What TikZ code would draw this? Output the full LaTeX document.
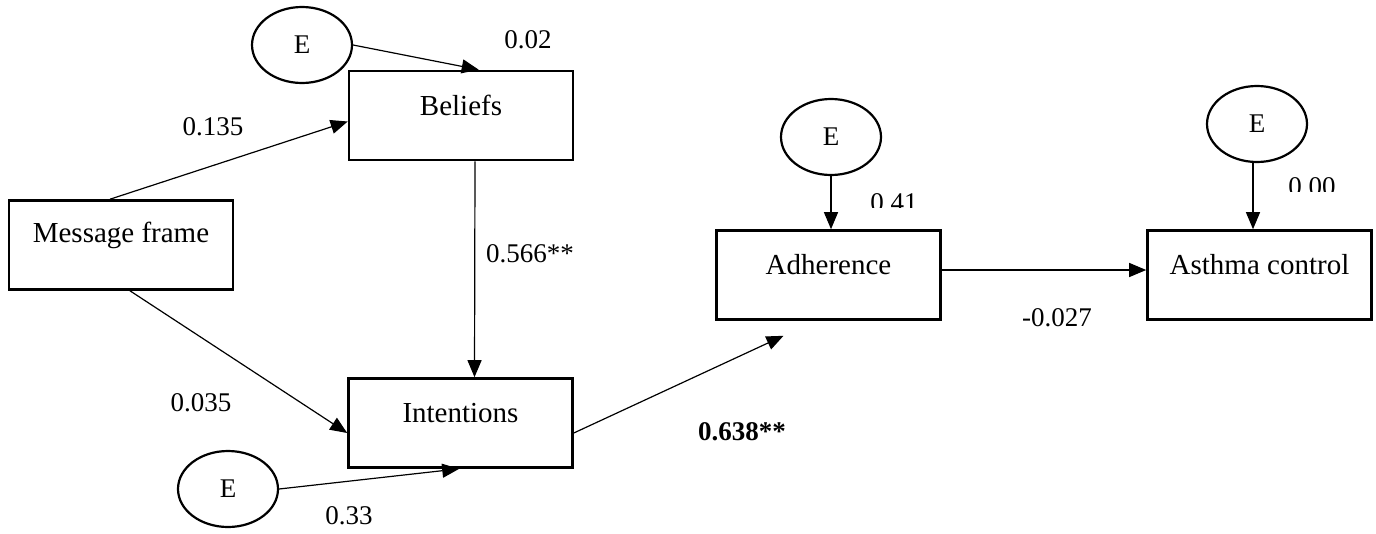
\documentclass[tikz,border=0pt]{standalone}
\usepackage{fontspec}
\setmainfont{Liberation Serif}
\usetikzlibrary{arrows.meta,shapes.geometric}
\begin{document}
\begin{tikzpicture}[x=1pt,y=-1pt,
  box/.style={draw,line width=2.6pt,rectangle,minimum width=224pt,minimum height=89pt,inner sep=0pt},
  boxtext/.style={font=\fontsize{29}{34}\selectfont,yshift=10pt},
  err/.style={draw,line width=2.2pt,ellipse,minimum width=100pt,minimum height=76pt,inner sep=0pt,font=\fontsize{27}{32}\selectfont},
  conn/.style={line width=1.2pt,-{Triangle[length=17pt,width=14pt]}},
  coef/.style={font=\fontsize{27}{32}\selectfont,inner sep=0pt}]
\useasboundingbox (0,0) rectangle (1376,533);
\fill[white] (0,0) rectangle (1376,533);
% boxes
\node[box,label={[boxtext]center:Message frame}] (msg) at (121,245) {};
\node[box,label={[boxtext]center:Beliefs}] (bel) at (461,115.5) {};
\node[box,label={[boxtext]center:Intentions}] (int) at (460.5,423) {};
\node[box,label={[boxtext]center:Adherence}] (adh) at (828.5,275) {};
\node[box,label={[boxtext]center:Asthma control}] (ast) at (1259.5,275) {};
% error terms
\node[err] (e1) at (302,45) {E};
\node[err] (e2) at (228,489) {E};
\node[err] (e3) at (831,137) {E};
\node[err] (e4) at (1257,124) {E};
% connectors
\draw[conn] ([xshift=-11pt]msg.north) -- ([yshift=-6pt]bel.west);
\draw[conn] ([xshift=9pt]msg.south) -- ([yshift=-10pt]int.west);
\draw[conn] ([xshift=14pt]bel.south) -- ([xshift=14pt]int.north);
\draw[conn] ([yshift=-10pt]int.east) -- ([xshift=-45pt,yshift=-15pt]adh.south);
\draw[conn] ([yshift=5pt]adh.east) -- ([yshift=5pt]ast.west);
\draw[conn] (e1.east) -- ([xshift=131pt]bel.north west);
\draw[conn] (e2.east) -- ([xshift=112pt]int.south west);
\draw[conn] (e3.south) -- (e3.south |- adh.north);
\draw[conn] ([xshift=-4pt]e4.south) -- ([xshift=-4pt]e4.south |- ast.north);
% coefficients
\node[coef] (c1) at (213,127) {0.135};
\node[coef] (c2) at (530,254) {0.566**};
\node[coef] (c3) at (201,403) {0.035};
\node[coef] (c4) at (349,516) {0.33};
\node[coef,font=\fontsize{27}{32}\selectfont\bfseries] (c5) at (742,432) {0.638**};
\node[coef] (c6) at (1057,318) {-0.027};
\node[coef] (c7) at (528,40) {0.02};
\begin{scope}
\clip (860,180) rectangle (930,207);
\node[coef] (c8) at (894,203) {0.41};
\end{scope}
\begin{scope}
\clip (1280,165) rectangle (1345,191);
\node[coef] (c9) at (1312,187) {0.00};
\end{scope}
\end{tikzpicture}
\end{document}
